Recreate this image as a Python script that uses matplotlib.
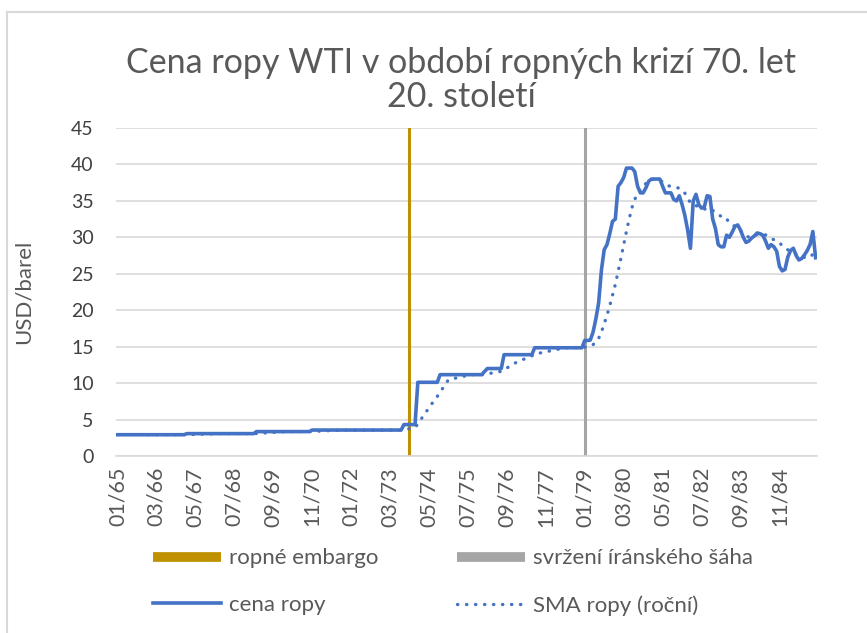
import matplotlib
matplotlib.use("Agg")
import matplotlib.pyplot as plt
from matplotlib.lines import Line2D
import pandas as pd

plt.rcParams['font.family'] = ['Lato', 'DejaVu Sans']

# monthly WTI price (USD/barel), 01/1965 .. 12/1985, one row per year
price = [
    2.92, 2.92, 2.92, 2.92, 2.92, 2.92, 2.92, 2.92, 2.92, 2.92, 2.92, 2.92,   # 1965
    2.92, 2.92, 2.92, 2.92, 2.92, 2.92, 2.92, 2.92, 2.92, 2.92, 2.92, 2.92,   # 1966
    2.92, 3.07, 3.07, 3.07, 3.07, 3.07, 3.07, 3.07, 3.07, 3.07, 3.07, 3.07,   # 1967
    3.07, 3.07, 3.07, 3.07, 3.07, 3.07, 3.07, 3.07, 3.07, 3.07, 3.07, 3.07,   # 1968
    3.07, 3.07, 3.35, 3.35, 3.35, 3.35, 3.35, 3.35, 3.35, 3.35, 3.35, 3.35,   # 1969
    3.35, 3.35, 3.35, 3.35, 3.35, 3.35, 3.35, 3.35, 3.35, 3.35, 3.56, 3.56,   # 1970
    3.56, 3.56, 3.56, 3.56, 3.56, 3.56, 3.56, 3.56, 3.56, 3.56, 3.56, 3.56,   # 1971
    3.56, 3.56, 3.56, 3.56, 3.56, 3.56, 3.56, 3.56, 3.56, 3.56, 3.56, 3.56,   # 1972
    3.56, 3.56, 3.56, 3.56, 3.56, 3.56, 3.56, 4.31, 4.31, 4.31, 4.31, 4.31,   # 1973
    10.11, 10.11, 10.11, 10.11, 10.11, 10.11, 10.11, 10.11, 11.16, 11.16, 11.16, 11.16,  # 1974
    11.16, 11.16, 11.16, 11.16, 11.16, 11.16, 11.16, 11.16, 11.16, 11.16, 11.16, 11.16,  # 1975
    11.6, 12.0, 12.0, 12.0, 12.0, 12.0, 12.0, 13.9, 13.9, 13.9, 13.9, 13.9,   # 1976
    13.9, 13.9, 13.9, 13.9, 13.9, 13.9, 14.85, 14.85, 14.85, 14.85, 14.85, 14.85,  # 1977
    14.85, 14.85, 14.85, 14.85, 14.85, 14.85, 14.85, 14.85, 14.85, 14.85, 14.85, 14.85,  # 1978
    15.85, 15.85, 15.9, 17.0, 18.8, 21.0, 25.5, 28.3, 29.0, 30.5, 32.2, 32.5,  # 1979
    37.0, 37.5, 38.2, 39.5, 39.5, 39.5, 39.0, 37.0, 36.1, 36.1, 36.8, 37.7,   # 1980
    38.0, 38.0, 38.0, 38.0, 37.0, 36.1, 36.1, 36.1, 35.2, 35.0, 35.7, 34.5,   # 1981
    33.0, 31.0, 28.5, 35.0, 35.9, 34.5, 34.0, 34.2, 35.7, 35.6, 32.5, 31.2,   # 1982
    29.0, 28.7, 28.7, 30.3, 30.0, 30.7, 31.5, 31.7, 31.0, 30.0, 29.3, 29.5,   # 1983
    29.9, 30.2, 30.6, 30.5, 30.3, 29.5, 28.5, 29.0, 28.7, 28.1, 26.0, 25.4,   # 1984
    25.6, 27.3, 28.2, 28.5, 27.5, 26.9, 27.1, 27.6, 28.2, 29.0, 30.8, 27.2,   # 1985
]

tick_labels = ['01/65', '03/66', '05/67', '07/68', '09/69', '11/70', '01/72', '03/73',
               '05/74', '07/75', '09/76', '11/77', '01/79', '03/80', '05/81', '07/82',
               '09/83', '11/84']
embargo_month = 105   # 10/73
shah_month = 168      # 01/79

blue = '#4472C4'
gold = '#BF9000'
grey = '#A5A5A5'
text_c = '#595959'

s = pd.Series(price)
sma = s.rolling(12).mean()   # roční klouzavý průměr (trendline jako v Excelu)

fig = plt.figure(figsize=(8.67, 6.33), dpi=100)
ax = fig.add_axes([116/867, 1-456/633, 701/867, 328/633])

ax.axvline(embargo_month, color=gold, lw=2.2, zorder=2)
ax.axvline(shah_month, color=grey, lw=2.2, zorder=2)
ax.plot(s.index, s.values, color=blue, lw=2.6, zorder=4, solid_joinstyle='round')
ax.plot(sma.index, sma.values, color=blue, lw=2.4, zorder=3,
        dashes=(0.1, 2.6), dash_capstyle='round')

ax.set_xlim(-0.5, len(price) - 0.5)
ax.set_ylim(0, 45)
ax.set_yticks(range(0, 46, 5))
ax.set_xticks(range(0, len(price), 14))
ax.set_xticklabels(tick_labels, rotation=90)
ax.tick_params(axis='x', length=0, pad=8, labelsize=15.5, labelcolor=text_c)
ax.tick_params(axis='y', length=0, pad=16, labelsize=14, labelcolor='#404040')
ax.yaxis.grid(True, color='#D9D9D9', lw=1.2)
ax.set_axisbelow(True)
for side in ['top', 'right', 'left']:
    ax.spines[side].set_visible(False)
ax.spines['bottom'].set_color('#D9D9D9')
ax.spines['bottom'].set_linewidth(1.2)

fig.text(24/867, 1-292/633, 'USD/barel', rotation=90, ha='center', va='center',
         fontsize=16, color=text_c)

fig.text(461/867, 1-80/633, 'Cena ropy WTI v období ropných krizí 70. let\n20. století',
         ha='center', va='center', fontsize=24.5, color=text_c, linespacing=1.05)

# chart frame (cut at right/bottom as in the source screenshot)
fig.add_artist(Line2D([7/867, 7/867], [0, 1-12/633], color='#D9D9D9', lw=1.5))
fig.add_artist(Line2D([7/867, 1], [1-12/633, 1-12/633], color='#D9D9D9', lw=1.5))

handles = [
    Line2D([], [], color=gold, lw=7, solid_capstyle='butt'),
    Line2D([], [], color=blue, lw=2.6),
    Line2D([], [], color=grey, lw=7, solid_capstyle='butt'),
    Line2D([], [], color=blue, lw=2.4, dashes=(0.1, 2.6), dash_capstyle='round'),
]
labels = ['ropné embargo', 'cena ropy', 'svržení íránského šáha', 'SMA ropy (roční)']
leg = fig.legend(handles, labels, ncol=2, loc='center', bbox_to_anchor=(453/867, 1-582/633),
                 frameon=False, fontsize=16, handlelength=3.06, handletextpad=0.4,
                 columnspacing=3.5, labelspacing=1.2)
for t in leg.get_texts():
    t.set_color(text_c)

fig.savefig('out.png', dpi=100)
